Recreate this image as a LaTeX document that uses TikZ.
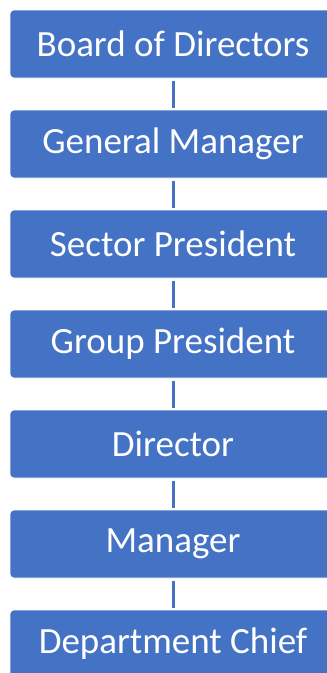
\documentclass[tikz,border=0pt]{standalone}
\usepackage{fontspec}
\setmainfont{Carlito}
\usetikzlibrary{positioning}
\definecolor{officeblue}{HTML}{4472C4}
\tikzset{rank/.style={rectangle, rounded corners=4pt, fill=officeblue, draw=white, line width=0.6pt, text=white, minimum width=326pt, minimum height=68pt, inner sep=0pt, outer sep=0pt, font=\fontsize{37}{40}\selectfont},
link/.style={draw=officeblue, line width=3pt, shorten <=2.5pt, shorten >=2.5pt}}

\begin{document}
\begin{tikzpicture}[node distance=32pt]
\useasboundingbox (0pt,0pt) rectangle (327pt,-673pt);
\clip (0pt,0pt) rectangle (327pt,-673pt);

\node[rank] (board) at (173pt,-44pt) {Board of Directors};
\node[rank, below=of board] (gm) {General Manager};
\node[rank, below=of gm] (sector) {Sector President};
\node[rank, below=of sector] (group) {Group President};
\node[rank, below=of group] (director) {Director};
\node[rank, below=of director] (manager) {Manager};
\node[rank, below=of manager] (chief) {Department Chief};

% connectors
\draw[link] (board) -- (gm);
\draw[link] (gm) -- (sector);
\draw[link] (sector) -- (group);
\draw[link] (group) -- (director);
\draw[link] (director) -- (manager);
\draw[link] (manager) -- (chief);

\end{tikzpicture}
\end{document}
